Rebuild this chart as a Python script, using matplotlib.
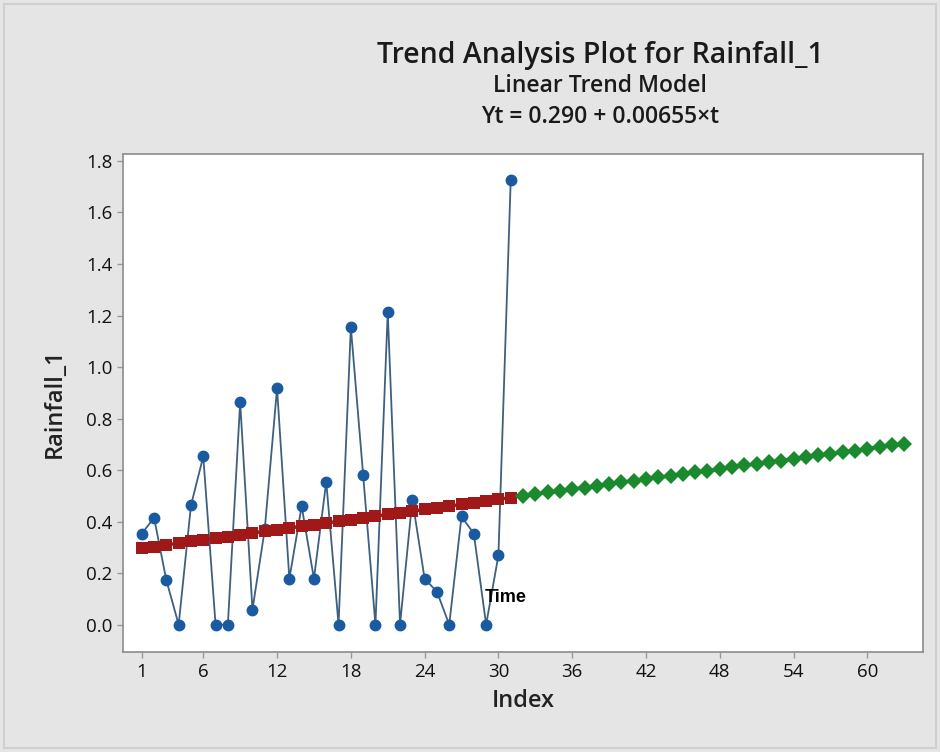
import matplotlib
matplotlib.use("Agg")
import matplotlib.pyplot as plt
from matplotlib.patches import Rectangle

# ---- data ----
index_actual = list(range(1, 32))
rainfall = [0.353, 0.415, 0.172, 0.0, 0.463, 0.653, 0.0, 0.0, 0.864, 0.058,
            0.37, 0.918, 0.178, 0.46, 0.178, 0.555, 0.0, 1.155, 0.581, 0.0,
            1.214, 0.0, 0.485, 0.178, 0.128, 0.0, 0.42, 0.353, 0.0, 0.269, 1.726]
fits = [0.297, 0.303, 0.310, 0.316, 0.323, 0.329, 0.336, 0.342, 0.349, 0.356,
        0.362, 0.369, 0.375, 0.382, 0.388, 0.395, 0.401, 0.408, 0.414, 0.421,
        0.428, 0.434, 0.441, 0.447, 0.454, 0.460, 0.467, 0.473, 0.480, 0.487, 0.493]
index_forecast = list(range(32, 64))
forecasts = [0.500, 0.506, 0.513, 0.519, 0.526, 0.532, 0.539, 0.545, 0.552, 0.559,
             0.565, 0.572, 0.578, 0.585, 0.591, 0.598, 0.604, 0.611, 0.618, 0.624,
             0.631, 0.637, 0.644, 0.650, 0.657, 0.663, 0.670, 0.676, 0.683, 0.690,
             0.696, 0.703]
x_ticks = [1, 6, 12, 18, 24, 30, 36, 42, 48, 54, 60]
y_ticks = [0.0, 0.2, 0.4, 0.6, 0.8, 1.0, 1.2, 1.4, 1.6, 1.8]

title_lines = ["Trend Analysis Plot for Rainfall_1", "Linear Trend Model",
               "Yt = 0.290 + 0.00655×t"]

FONT = ["Open Sans", "DejaVu Sans"]
plt.rcParams["font.family"] = FONT

bg = "#e5e5e5"
fig = plt.figure(figsize=(9.4, 7.52), dpi=100, facecolor=bg)
fig.patches.append(Rectangle((0.004, 0.005), 0.992, 0.99, transform=fig.transFigure,
                             fill=False, edgecolor="#cfcfcf", linewidth=1.5))

ax = fig.add_axes([0.1312, 0.1334, 0.8504, 0.6618])
ax.set_facecolor("white")

ax.plot(index_actual, rainfall, color="#3d6080", linewidth=1.3, marker="o",
        markersize=7.5, markerfacecolor="#1a5aa0", markeredgecolor="#1a5aa0",
        zorder=3)
ax.plot(index_actual, fits, color="#a01818", linewidth=2.5, marker="s",
        markersize=9, markeredgewidth=0, zorder=4)
ax.plot(index_forecast, forecasts, color="#1b8a2e", linewidth=2.5, marker="D",
        markersize=8, markeredgewidth=0, zorder=4)

ax.set_xlim(-0.5, 64.5)
ax.set_ylim(-0.105, 1.827)
ax.set_xticks(x_ticks)
ax.set_yticks(y_ticks)
ax.set_yticklabels([f"{v:.1f}" for v in y_ticks])
ax.tick_params(axis="both", direction="out", length=4, width=1, color="#999999",
               labelsize=13.5, labelcolor="#111111", pad=4)
for s in ax.spines.values():
    s.set_color("#8c8c8c")
    s.set_linewidth(1.2)

ax.set_xlabel("Index", fontsize=17, fontweight="semibold", color="#222222", labelpad=6)
ax.set_ylabel("Rainfall_1", fontsize=17, fontweight="semibold", color="#222222", labelpad=14)

ax.text(485, 752 - 598, "Time", transform=None, fontsize=13, fontweight="bold",
        family=["Liberation Sans", "DejaVu Sans"], va="center", ha="left")

ys = [752 - 55, 752 - 86, 752 - 117]
sizes = [20.5, 16.5, 16.5]
for t, y, sz in zip(title_lines, ys, sizes):
    fig.text(600 / 940, y / 752, t, ha="center", va="center", fontsize=sz,
             fontweight="semibold", color="#1a1a1a")

fig.savefig("out.png", dpi=100, facecolor=bg)
